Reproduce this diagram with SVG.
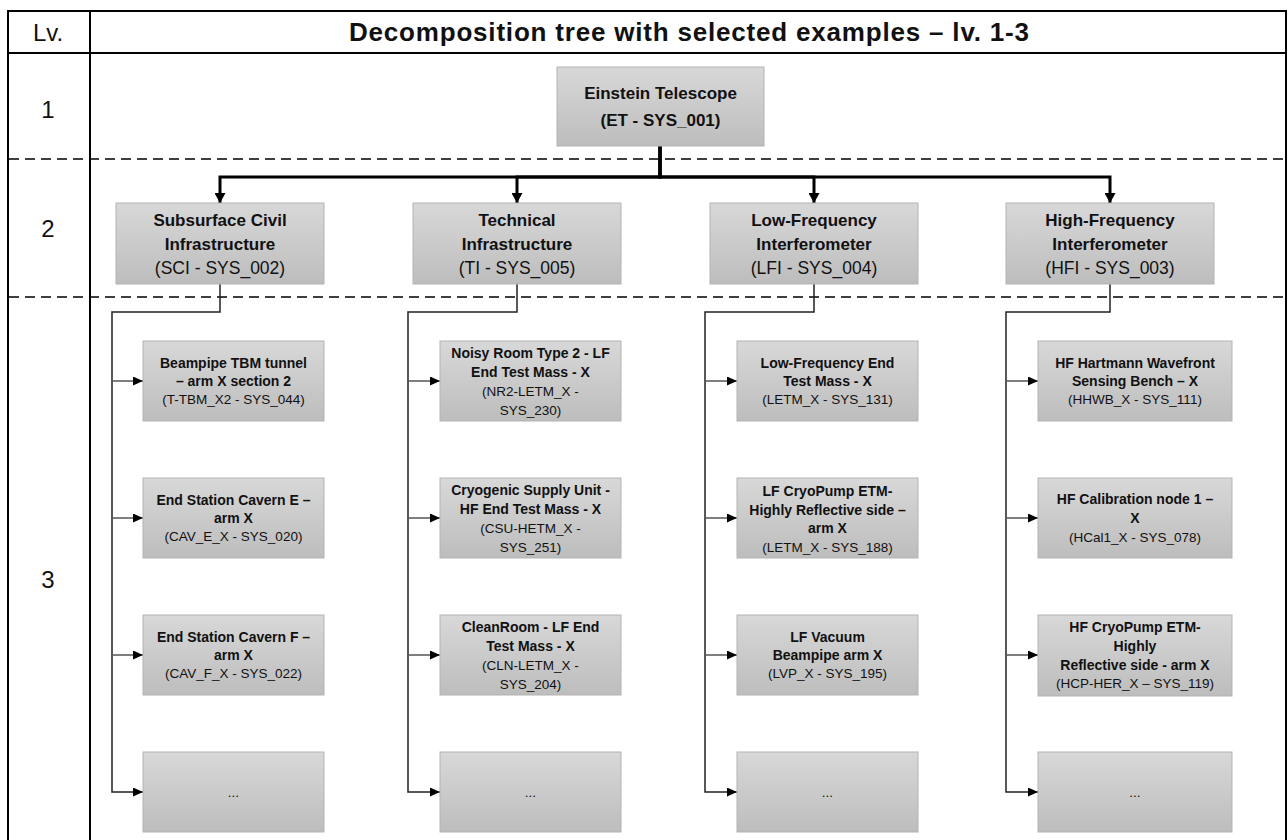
<svg xmlns="http://www.w3.org/2000/svg" width="1288" height="840" viewBox="0 0 1288 840">
<style>
  .tbl{fill:none;stroke:#000;stroke-width:2}
  .dash{fill:none;stroke:#000;stroke-width:1.5;stroke-dasharray:10 6}
  .box{fill:url(#g);stroke:#b3b3b3;stroke-width:1}
  .t{font-family:"Liberation Sans",Arial,sans-serif;fill:#111;text-anchor:middle}
  .hd{font-size:26px;font-weight:bold}
  .lv{font-size:24px}
  .b2{font-size:17px;font-weight:bold}
  .r2{font-size:17.5px}
  .b3{font-size:14px;font-weight:bold}
  .r3{font-size:13.5px}
  .thick{fill:none;stroke:#000;stroke-width:3;marker-end:url(#ah)}
  .trunk{fill:none;stroke:#222;stroke-width:1.5;marker-end:url(#as)}
  .br{fill:none;stroke:#555;stroke-width:1.5;marker-end:url(#as)}
</style>
<defs>
  <linearGradient id="g" x1="0" y1="0" x2="0" y2="1">
    <stop offset="0" stop-color="#d8d8d8"/>
    <stop offset="1" stop-color="#bdbdbd"/>
  </linearGradient>
  <marker id="ah" markerUnits="userSpaceOnUse" markerWidth="11" markerHeight="11" refX="10" refY="5.5" orient="auto">
    <path d="M0,0 L10,5.5 L0,11 z" fill="#000"/>
  </marker>
  <marker id="as" markerUnits="userSpaceOnUse" markerWidth="10" markerHeight="10" refX="10" refY="4.5" orient="auto">
    <path d="M0,0 L10,4.5 L0,9 z" fill="#000"/>
  </marker>
</defs>

<g id="table">
  <rect class="tbl" x="8" y="11" width="1278" height="845"/>
  <line class="tbl" x1="90" y1="11" x2="90" y2="850"/>
  <line class="tbl" x1="8" y1="53" x2="1286" y2="53"/>
  <line class="dash" x1="9" y1="159" x2="1286" y2="159"/>
  <line class="dash" x1="9" y1="297" x2="1286" y2="297"/>
  <text class="t lv" x="48" y="41">Lv.</text>
  <text class="t hd" x="689" y="41" textLength="680" lengthAdjust="spacing">Decomposition tree with selected examples – lv. 1-3</text>
  <text class="t lv" x="48" y="118">1</text>
  <text class="t lv" x="48" y="237">2</text>
  <text class="t lv" x="48" y="588">3</text>
</g>

<g id="connectors">
  <path class="thick" d="M660,146 V177 H220 V203"/>
  <path class="thick" d="M660,146 V177 H517 V203"/>
  <path class="thick" d="M660,146 V177 H814 V203"/>
  <path class="thick" d="M660,146 V177 H1110 V203"/>

  <path class="trunk" d="M220,284 V312 H112 V792 H143"/>
  <path class="br" d="M112,381 H143"/>
  <path class="br" d="M112,518 H143"/>
  <path class="br" d="M112,655 H143"/>

  <path class="trunk" d="M517,284 V312 H408 V792 H440"/>
  <path class="br" d="M408,381 H440"/>
  <path class="br" d="M408,518 H440"/>
  <path class="br" d="M408,655 H440"/>

  <path class="trunk" d="M814,284 V312 H705 V792 H737"/>
  <path class="br" d="M705,381 H737"/>
  <path class="br" d="M705,518 H737"/>
  <path class="br" d="M705,655 H737"/>

  <path class="trunk" d="M1110,284 V312 H1006 V792 H1038"/>
  <path class="br" d="M1006,381 H1038"/>
  <path class="br" d="M1006,518 H1038"/>
  <path class="br" d="M1006,655 H1038"/>
</g>

<g id="et">
  <rect class="box" x="557" y="67" width="207" height="79"/>
  <text class="t b2" x="660.5" y="99">Einstein Telescope</text>
  <text class="t b2" x="660.5" y="126">(ET - SYS_001)</text>
</g>

<g id="sci">
  <rect class="box" x="116" y="203" width="208" height="81"/>
  <text class="t b2" x="220" y="226">Subsurface Civil</text>
  <text class="t b2" x="220" y="250">Infrastructure</text>
  <text class="t r2" x="220" y="274">(SCI - SYS_002)</text>
</g>
<g id="ti">
  <rect class="box" x="413" y="203" width="208" height="81"/>
  <text class="t b2" x="517" y="226">Technical</text>
  <text class="t b2" x="517" y="250">Infrastructure</text>
  <text class="t r2" x="517" y="274">(TI - SYS_005)</text>
</g>
<g id="lfi">
  <rect class="box" x="710" y="203" width="208" height="81"/>
  <text class="t b2" x="814" y="226">Low-Frequency</text>
  <text class="t b2" x="814" y="250">Interferometer</text>
  <text class="t r2" x="814" y="274">(LFI - SYS_004)</text>
</g>
<g id="hfi">
  <rect class="box" x="1006" y="203" width="208" height="81"/>
  <text class="t b2" x="1110" y="226">High-Frequency</text>
  <text class="t b2" x="1110" y="250">Interferometer</text>
  <text class="t r2" x="1110" y="274">(HFI - SYS_003)</text>
</g>

<!-- SCI column -->
<g id="sci-1">
  <rect class="box" x="143" y="341" width="181" height="80"/>
  <text class="t b3" x="233.5" y="368">Beampipe TBM tunnel</text>
  <text class="t b3" x="233.5" y="386">– arm X section 2</text>
  <text class="t r3" x="233.5" y="404">(T-TBM_X2 - SYS_044)</text>
</g>
<g id="sci-2">
  <rect class="box" x="143" y="478" width="181" height="80"/>
  <text class="t b3" x="233.5" y="505">End Station Cavern E –</text>
  <text class="t b3" x="233.5" y="523">arm X</text>
  <text class="t r3" x="233.5" y="541">(CAV_E_X - SYS_020)</text>
</g>
<g id="sci-3">
  <rect class="box" x="143" y="615" width="181" height="80"/>
  <text class="t b3" x="233.5" y="642">End Station Cavern F –</text>
  <text class="t b3" x="233.5" y="660">arm X</text>
  <text class="t r3" x="233.5" y="678">(CAV_F_X - SYS_022)</text>
</g>
<g id="sci-4">
  <rect class="box" x="143" y="752" width="181" height="80"/>
  <text class="t r3" x="233.5" y="797">...</text>
</g>

<!-- TI column -->
<g id="ti-1">
  <rect class="box" x="440" y="341" width="181" height="80"/>
  <text class="t b3" x="530.5" y="358">Noisy Room Type 2 - LF</text>
  <text class="t b3" x="530.5" y="377">End Test Mass - X</text>
  <text class="t r3" x="530.5" y="396">(NR2-LETM_X -</text>
  <text class="t r3" x="530.5" y="415">SYS_230)</text>
</g>
<g id="ti-2">
  <rect class="box" x="440" y="478" width="181" height="80"/>
  <text class="t b3" x="530.5" y="495">Cryogenic Supply Unit -</text>
  <text class="t b3" x="530.5" y="514">HF End Test Mass - X</text>
  <text class="t r3" x="530.5" y="533">(CSU-HETM_X -</text>
  <text class="t r3" x="530.5" y="552">SYS_251)</text>
</g>
<g id="ti-3">
  <rect class="box" x="440" y="615" width="181" height="80"/>
  <text class="t b3" x="530.5" y="632">CleanRoom - LF End</text>
  <text class="t b3" x="530.5" y="651">Test Mass - X</text>
  <text class="t r3" x="530.5" y="670">(CLN-LETM_X -</text>
  <text class="t r3" x="530.5" y="689">SYS_204)</text>
</g>
<g id="ti-4">
  <rect class="box" x="440" y="752" width="181" height="80"/>
  <text class="t r3" x="530.5" y="797">...</text>
</g>

<!-- LFI column -->
<g id="lfi-1">
  <rect class="box" x="737" y="341" width="181" height="80"/>
  <text class="t b3" x="827.5" y="368">Low-Frequency End</text>
  <text class="t b3" x="827.5" y="386">Test Mass - X</text>
  <text class="t r3" x="827.5" y="404">(LETM_X - SYS_131)</text>
</g>
<g id="lfi-2">
  <rect class="box" x="737" y="478" width="181" height="80"/>
  <text class="t b3" x="827.5" y="496">LF CryoPump ETM-</text>
  <text class="t b3" x="827.5" y="514.5">Highly Reflective side –</text>
  <text class="t b3" x="827.5" y="533">arm X</text>
  <text class="t r3" x="827.5" y="552">(LETM_X - SYS_188)</text>
</g>
<g id="lfi-3">
  <rect class="box" x="737" y="615" width="181" height="80"/>
  <text class="t b3" x="827.5" y="642">LF Vacuum</text>
  <text class="t b3" x="827.5" y="660">Beampipe arm X</text>
  <text class="t r3" x="827.5" y="678">(LVP_X - SYS_195)</text>
</g>
<g id="lfi-4">
  <rect class="box" x="737" y="752" width="181" height="80"/>
  <text class="t r3" x="827.5" y="797">...</text>
</g>

<!-- HFI column -->
<g id="hfi-1">
  <rect class="box" x="1038" y="341" width="194" height="80"/>
  <text class="t b3" x="1135" y="368">HF Hartmann Wavefront</text>
  <text class="t b3" x="1135" y="386">Sensing Bench – X</text>
  <text class="t r3" x="1135" y="404">(HHWB_X - SYS_111)</text>
</g>
<g id="hfi-2">
  <rect class="box" x="1038" y="478" width="194" height="80"/>
  <text class="t b3" x="1135" y="504">HF Calibration node 1 –</text>
  <text class="t b3" x="1135" y="523">X</text>
  <text class="t r3" x="1135" y="542">(HCal1_X - SYS_078)</text>
</g>
<g id="hfi-3">
  <rect class="box" x="1038" y="615" width="194" height="81"/>
  <text class="t b3" x="1135" y="632">HF CryoPump ETM-</text>
  <text class="t b3" x="1135" y="651">Highly</text>
  <text class="t b3" x="1135" y="670">Reflective side - arm X</text>
  <text class="t r3" x="1135" y="688">(HCP-HER_X – SYS_119)</text>
</g>
<g id="hfi-4">
  <rect class="box" x="1038" y="752" width="194" height="80"/>
  <text class="t r3" x="1135" y="797">...</text>
</g>
</svg>
